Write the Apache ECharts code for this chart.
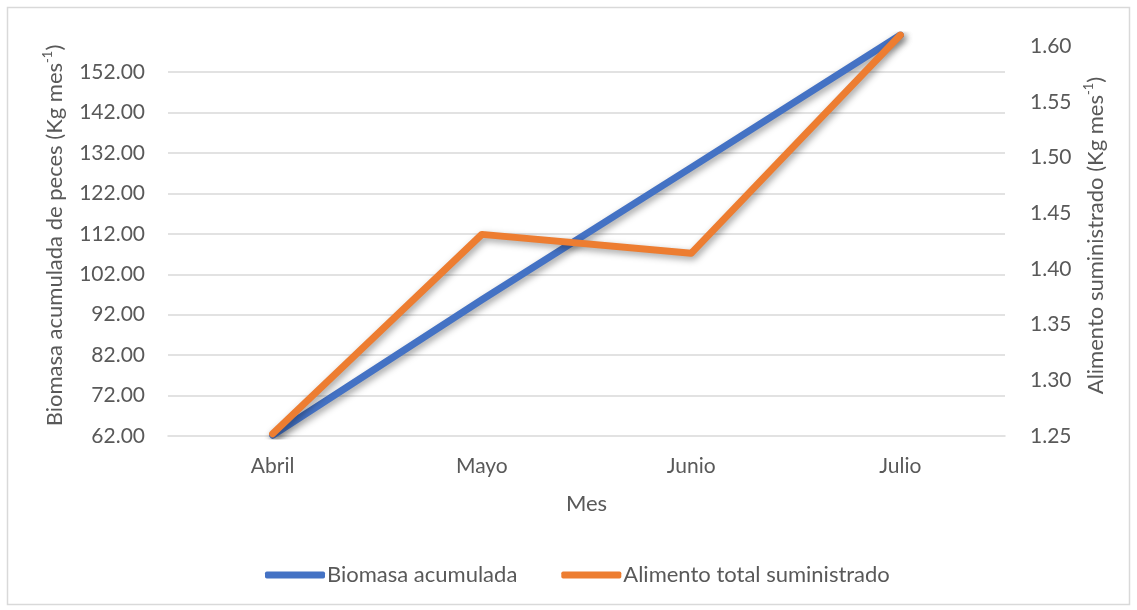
<!DOCTYPE html>
<html>
<head>
<meta charset="utf-8">
<title>Biomasa acumulada y alimento suministrado</title>
<script src="https://cdn.jsdelivr.net/npm/echarts@6/dist/echarts.min.js"></script>
<style>
  html, body { margin: 0; padding: 0; background: #ffffff; }
  #chart { width: 1137px; height: 610px; }
</style>
</head>
<body>
<div id="chart"></div>
<script>
// Months on the horizontal axis
const meses = ['Abril', 'Mayo', 'Junio', 'Julio'];
// Accumulated fish biomass (Kg mes-1), left axis
const biomasa = [62.2, 95.7, 128.4, 161.2];
// Total feed supplied (Kg mes-1), right axis
const alimento = [1.252, 1.431, 1.414, 1.61];

// Axis ranges and steps
const biomasaMin = 62, biomasaMax = 161.2, biomasaStep = 10;
const alimentoMin = 1.25, alimentoMax = 1.61, alimentoStep = 0.05;

const FONT = 'Lato';
const GREY = '#595959';
const GRID_LINE = '#d9d9d9';

const chart = echarts.init(document.getElementById('chart'), null, { renderer: 'canvas' });

const lineShadow = {
  shadowColor: 'rgba(0,0,0,0.38)',
  shadowBlur: 7,
  shadowOffsetX: 2,
  shadowOffsetY: 3
};

const nameRich = {
  a: { fontFamily: FONT, fontSize: 22, color: GREY, lineHeight: 27 },
  s: { fontFamily: FONT, fontSize: 13, color: GREY, lineHeight: 27, verticalAlign: 'top', padding: [0, 0, 8, 0] }
};

chart.setOption({
  animation: false,
  backgroundColor: '#ffffff',
  textStyle: { fontFamily: FONT, color: GREY },
  graphic: [{
    type: 'rect',
    shape: { x: 7.5, y: 7.5, width: 1122, height: 597 },
    style: { fill: 'none', stroke: GRID_LINE, lineWidth: 1.5 },
    silent: true,
    z: -10
  }],
  grid: { left: 168, right: 132, top: 35, bottom: 174, containLabel: false },
  legend: {
    left: 260,
    top: 559,
    icon: 'roundRect',
    itemWidth: 60,
    itemHeight: 7,
    itemGap: 44,
    textStyle: { fontFamily: FONT, fontSize: 22, color: GREY, padding: [0, 0, 0, -3] },
    data: ['Biomasa acumulada', 'Alimento total suministrado']
  },
  xAxis: {
    type: 'category',
    data: meses,
    boundaryGap: true,
    name: 'Mes',
    nameLocation: 'middle',
    nameGap: 57,
    nameTextStyle: { fontFamily: FONT, fontSize: 22, color: GREY },
    axisLine: { show: true, lineStyle: { color: GRID_LINE, width: 1.5 } },
    axisTick: { show: false },
    axisLabel: { margin: 20, fontFamily: FONT, fontSize: 21, color: GREY },
    splitLine: { show: false }
  },
  yAxis: [
    {
      // Biomass scale: ticks every 2 from the minimum, labelled every 10
      type: 'value',
      position: 'left',
      min: biomasaMin,
      max: biomasaMax,
      interval: 2,
      name: '{a|Biomasa acumulada de peces (Kg mes}{s|-1}{a|)}',
      nameLocation: 'middle',
      nameRotate: 90,
      nameGap: 100,
      nameTextStyle: { rich: nameRich },
      axisLine: { show: false },
      axisTick: { show: false },
      splitLine: { show: false },
      axisLabel: {
        margin: 23,
        fontFamily: FONT,
        fontSize: 21,
        color: GREY,
        showMaxLabel: false,
        formatter: function (v) {
          const off = v - biomasaMin;
          const r = Math.round(off);
          if (Math.abs(off - r) < 1e-6 && r % biomasaStep === 0) return v.toFixed(2);
          return '';
        }
      }
    },
    {
      // Feed scale on the right
      type: 'value',
      position: 'right',
      min: alimentoMin,
      max: alimentoMax,
      interval: alimentoStep,
      name: '{a|Alimento suministrado (Kg mes}{s|-1}{a|)}',
      nameLocation: 'middle',
      nameRotate: 90,
      nameGap: 77,
      nameTextStyle: { rich: nameRich },
      axisLine: { show: false },
      axisTick: { show: false },
      splitLine: { show: false },
      axisLabel: {
        margin: 25,
        fontFamily: FONT,
        fontSize: 21,
        color: GREY,
        showMaxLabel: false,
        formatter: function (v) { return v.toFixed(2); }
      }
    },
    {
      // Horizontal gridlines at each labelled biomass step
      type: 'value',
      position: 'left',
      min: 0,
      max: biomasaMax - biomasaMin,
      interval: biomasaStep,
      axisLine: { show: false },
      axisTick: { show: false },
      axisLabel: { show: false },
      splitLine: { show: true, showMinLine: false, showMaxLine: false, lineStyle: { color: GRID_LINE, width: 1.5 } }
    }
  ],
  series: [
    {
      name: 'Biomasa acumulada',
      type: 'line',
      yAxisIndex: 0,
      data: biomasa,
      symbol: 'none',
      color: '#4472C4',
      lineStyle: Object.assign({ color: '#4472C4', width: 7, cap: 'round', join: 'round' }, lineShadow),
      z: 3
    },
    {
      name: 'Alimento total suministrado',
      type: 'line',
      yAxisIndex: 1,
      data: alimento,
      symbol: 'none',
      color: '#ED7D31',
      lineStyle: Object.assign({ color: '#ED7D31', width: 7, cap: 'round', join: 'round' }, lineShadow),
      z: 4
    }
  ]
});
</script>
</body>
</html>
